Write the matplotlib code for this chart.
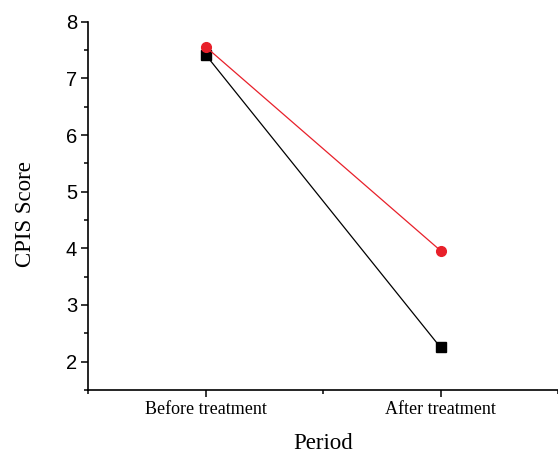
import matplotlib
matplotlib.use("Agg")
import matplotlib.pyplot as plt
from matplotlib.ticker import MultipleLocator

categories = ["Before treatment", "After treatment"]
black_series = [7.42, 2.25]
red_series = [7.56, 3.96]
y_ticks = [2, 3, 4, 5, 6, 7, 8]

fig = plt.figure(figsize=(5.58, 4.55), dpi=100)
ax = fig.add_axes([0.158, 0.143, 0.842, 0.809])

x = [1, 2]
ax.plot(x, black_series, color="black", lw=0.9, marker="s", ms=6.5, mfc="black", mec="black", zorder=3)
ax.plot(x, red_series, color="#e8202a", lw=0.9, marker="o", ms=7, mfc="#e8202a", mec="#e8202a", zorder=4)

ax.set_xlim(0.5, 2.5)
ax.set_ylim(1.5, 8)
ax.set_xticks(x)
ax.set_xticklabels(categories, family="Liberation Serif", fontsize=13)
ax.xaxis.set_minor_locator(MultipleLocator(0.5))
ax.set_yticks(y_ticks)
ax.set_yticklabels([str(v) for v in y_ticks], family="Liberation Sans", fontsize=14.5)
ax.yaxis.set_minor_locator(MultipleLocator(0.5))

for s in ["top", "right"]:
    ax.spines[s].set_visible(False)
for s in ["left", "bottom"]:
    ax.spines[s].set_linewidth(1.2)

ax.tick_params(which="major", direction="out", length=5, width=1.1, pad=3)
ax.tick_params(which="minor", direction="out", length=3, width=1.1)

ax.set_xlabel("Period", family="Liberation Serif", fontsize=16.5, labelpad=11)
ax.set_ylabel("CPIS Score", family="Liberation Serif", fontsize=16.5)
ax.yaxis.set_label_coords(-0.112, 0.477)

fig.savefig("out.png", dpi=100)
